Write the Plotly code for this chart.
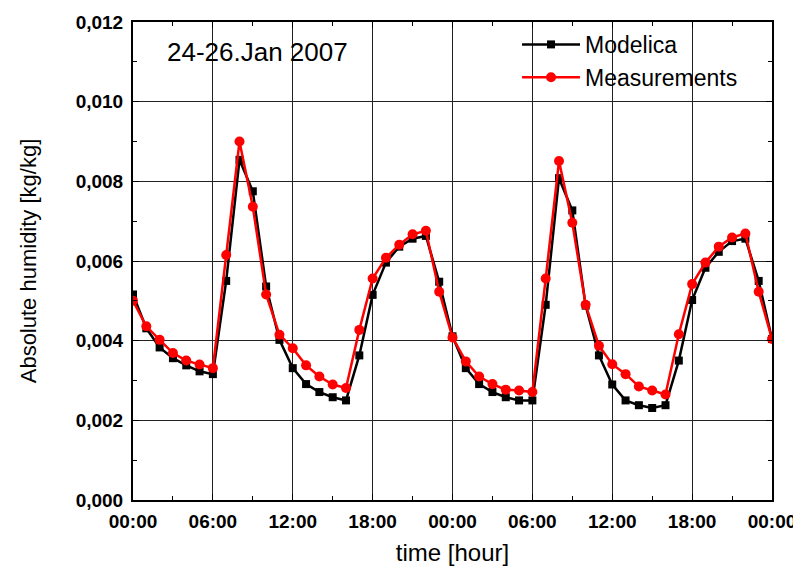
import plotly.graph_objects as go

hours = list(range(49))
modelica = [0.00516, 0.00431, 0.00383, 0.00356, 0.00338, 0.00323, 0.00316, 0.00550, 0.00854, 0.00775,
            0.00536, 0.00402, 0.00331, 0.00291, 0.00271, 0.00258, 0.00250, 0.00363, 0.00515, 0.00596,
            0.00636, 0.00656, 0.00663, 0.00548, 0.00411, 0.00331, 0.00291, 0.00271, 0.00258, 0.00250,
            0.00250, 0.00490, 0.00808, 0.00727, 0.00488, 0.00363, 0.00290, 0.00250, 0.00238, 0.00231,
            0.00238, 0.00350, 0.00502, 0.00583, 0.00623, 0.00650, 0.00656, 0.00550, 0.00404]
measurements = [0.00500, 0.00436, 0.00402, 0.00369, 0.00350, 0.00340, 0.00331, 0.00615, 0.00900, 0.00736,
                0.00516, 0.00415, 0.00381, 0.00338, 0.00310, 0.00290, 0.00281, 0.00427, 0.00556, 0.00608,
                0.00641, 0.00667, 0.00676, 0.00523, 0.00408, 0.00348, 0.00310, 0.00291, 0.00277, 0.00275,
                0.00271, 0.00556, 0.00851, 0.00696, 0.00490, 0.00387, 0.00341, 0.00316, 0.00285, 0.00275,
                0.00265, 0.00416, 0.00542, 0.00596, 0.00636, 0.00659, 0.00669, 0.00523, 0.00404]

x_tickvals = [0, 6, 12, 18, 24, 30, 36, 42, 48]
x_ticktext = ["00:00", "06:00", "12:00", "18:00", "00:00", "06:00", "12:00", "18:00", "00:00"]
y_tickvals = [0.000, 0.002, 0.004, 0.006, 0.008, 0.010, 0.012]
y_ticktext = ["0,000", "0,002", "0,004", "0,006", "0,008", "0,010", "0,012"]

FONT = "Liberation Sans, Arial, sans-serif"

fig = go.Figure()
fig.add_trace(go.Scatter(x=hours, y=modelica, mode="lines+markers", name="Modelica",
                         line=dict(color="black", width=2.5),
                         marker=dict(symbol="square", size=8, color="black")))
fig.add_trace(go.Scatter(x=hours, y=measurements, mode="lines+markers", name="Measurements",
                         line=dict(color="#ff0000", width=2.5),
                         marker=dict(symbol="circle", size=10, color="#ff0000")))

fig.update_layout(
    width=801, height=572,
    margin=dict(l=125, r=37, t=14, b=80),
    paper_bgcolor="white", plot_bgcolor="white",
    font=dict(family=FONT, color="black"),
    showlegend=True,
    legend=dict(x=0.601, y=0.998, xanchor="left", yanchor="top",
                bgcolor="rgba(255,255,255,0)", font=dict(size=23, family=FONT),
                itemwidth=58, tracegroupgap=0),
    annotations=[dict(text="24-26.Jan 2007", x=0.05, y=0.937, xref="paper", yref="paper",
                      xanchor="left", yanchor="middle", showarrow=False,
                      font=dict(size=26, family=FONT))],
)
fig.update_xaxes(range=[0, 48], tickvals=x_tickvals, ticktext=x_ticktext,
                 tickfont=dict(size=19, family=FONT, weight="bold"),
                 showgrid=True, gridcolor="#222222", gridwidth=1,
                 showline=True, linecolor="black", linewidth=2, mirror="allticks",
                 ticks="inside", ticklen=6, tickcolor="black", ticklabelstandoff=3,
                 minor=dict(dtick=3, tick0=0, ticks="inside", ticklen=4, tickcolor="black", showgrid=False),
                 zeroline=False, automargin=False,
                 title=dict(text="time [hour]", font=dict(size=24, family=FONT), standoff=13))
fig.update_yaxes(range=[0, 0.012], tickvals=y_tickvals, ticktext=y_ticktext,
                 tickfont=dict(size=19, family=FONT, weight="bold"),
                 showgrid=True, gridcolor="#222222", gridwidth=1,
                 showline=True, linecolor="black", linewidth=2, mirror="allticks",
                 ticks="inside", ticklen=6, tickcolor="black", ticklabelstandoff=4,
                 minor=dict(dtick=0.001, tick0=0, ticks="inside", ticklen=4, tickcolor="black", showgrid=False),
                 zeroline=False, automargin=False,
                 title=dict(text="Absolute humidity [kg/kg]", font=dict(size=22, family=FONT), standoff=33))

fig.write_html("out.html")
